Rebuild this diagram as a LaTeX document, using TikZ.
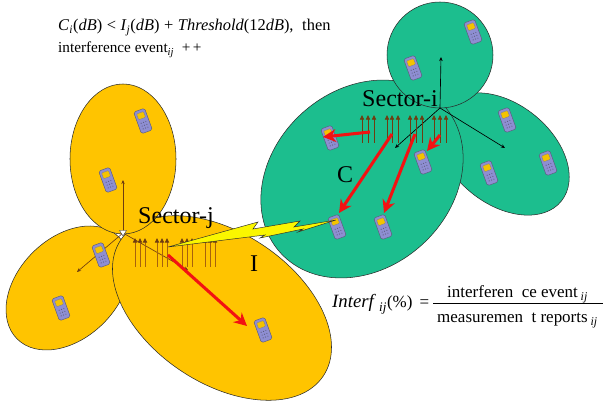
\documentclass[tikz,border=0pt]{standalone}
\usepackage{fontspec}
\setmainfont{Liberation Serif}
\usetikzlibrary{arrows.meta}

\definecolor{cellyellow}{HTML}{FFC400}
\definecolor{cellgreen}{HTML}{1CBE8E}
\definecolor{outline}{HTML}{2A2A2A}
\definecolor{beamred}{HTML}{F21212}
\definecolor{antbrown}{HTML}{A8620C}
\definecolor{antbrowndk}{HTML}{6E3C10}
\definecolor{phonebody}{HTML}{8E8ED2}
\definecolor{phoneedge}{HTML}{5C5C7C}
\definecolor{phonescreen}{HTML}{F4C300}
\definecolor{boltyellow}{HTML}{FAF600}

\tikzset{
  phone/.pic={
    \draw[phoneedge, fill=phonebody, line width=0.4pt, rounded corners=1.5pt] (-5.8,-11.5) rectangle (5.8,11.5);
    \draw[phoneedge!80, fill=phonescreen, line width=0.3pt, rounded corners=0.8pt] (-3.7,-8.8) rectangle (3.7,-2.6);
    \foreach \r in {1.5,4.5,7.5}{\foreach \c in {-2.5,0,2.5}{\fill[phoneedge] (\c,\r) circle (0.6);}}
  }
}

\begin{document}
\begin{tikzpicture}[x=0.03cm,y=-0.03cm,
  lobe/.style={draw=outline, line width=0.45pt},
  yl/.style={lobe, fill=cellyellow},
  gr/.style={lobe, fill=cellgreen},
  beam/.style={draw=beamred, line width=2.6pt, -{Stealth[length=11pt,width=11pt,inset=3.5pt]}},
  dirarrow/.style={line width=0.55pt, -{Stealth[length=3.5pt,width=3pt]}},
  ant/.style={draw=antbrown, line width=0.8pt, -{Triangle[length=4pt,width=3.6pt,color=antbrowndk,fill=antbrowndk]}},
  antg/.style={draw=antbrowndk, line width=0.7pt, -{Triangle[length=4pt,width=3.6pt,color=antbrowndk,fill=antbrowndk]}},
  lbl/.style={font=\fontsize{20.5}{24}\selectfont, inner sep=0pt, anchor=base west},
  eq/.style={font=\fontsize{13}{15}\selectfont, inner sep=0pt, anchor=base west},
  frac/.style={font=\fontsize{14.5}{17}\selectfont, inner sep=0pt, anchor=base west},
]
\useasboundingbox (0,0) rectangle (604,405);

% ---------- cell j (yellow) ----------
\coordinate (jsite) at (123,233);
\filldraw[yl, rotate around={45:(68,288)}] (68,288) ellipse [x radius=72, y radius=50];
\filldraw[yl, rotate around={-34:(222,308)}] (222,308) ellipse [x radius=122, y radius=75];
\filldraw[yl] (123,159) ellipse [x radius=53, y radius=75];

% ---------- cell i (green) ----------
\coordinate (isite) at (440,108);
\filldraw[gr, rotate around={-39:(503,154)}] (503,154) ellipse [x radius=75, y radius=50];
\filldraw[gr, rotate around={42:(362,179)}] (362,179) ellipse [x radius=110, y radius=89];
\filldraw[gr] (440,55) circle [radius=53];

% sector directions
\coordinate (j1) at (123,180);
\coordinate (j2) at (77,272);
\coordinate (j3) at (188,270);
\foreach \t in {j1,j2,j3} \draw[dirarrow, antbrowndk] (jsite) -- (\t);
\coordinate (i1) at (441,57);
\coordinate (i2) at (395,148);
\coordinate (i3) at (505,148);
\foreach \t in {i1,i2,i3} \draw[dirarrow, black] (isite) -- (\t);
\filldraw[fill=white, draw=outline, line width=0.3pt] (119.5,230.5) -- (126.5,230.5) -- (123,236) -- cycle;

% antenna element arrows
\foreach \x in {135,140,145,157,162,167,182,187,192,205,210,215}
  \draw[ant] (\x,267) -- (\x,238);
\foreach \x in {362,368,374,387,392,398,410,416,422,434,440,446}
  \draw[antg] (\x,143) -- (\x,115);

% ---------- mobiles ----------
\foreach \p in {(143,121),(108,180),(101,255),(61,308),(263,330),
                (473,32),(413,68),(330,138),(423,162),(507,120),(548,163),(489,173),(337,227),(383,227)}
  \pic[rotate=20] at \p {phone};

% ---------- interference bolt ----------
\filldraw[fill=boltyellow, draw=outline, line width=0.4pt, line join=miter]
  (168,247) -- (258,222) -- (253,229) -- (300,221) -- (294,227) -- (336,220)
  -- (298,232) -- (303,229) -- (260,238) -- (265,235) -- cycle;

% ---------- carrier / interferer links ----------
\coordinate (js) at (168,255);  \coordinate (je) at (247,326);
\coordinate (c1s) at (370,132); \coordinate (c1e) at (323,137);
\coordinate (c2s) at (392,134); \coordinate (c2e) at (339,213);
\coordinate (c3s) at (415,134); \coordinate (c3e) at (384,213);
\coordinate (c4s) at (440,135); \coordinate (c4e) at (427,151);
\draw[beam] (js) -- (je);
\draw[beam] (c1s) -- (c1e);
\draw[beam] (c2s) -- (c2e);
\draw[beam] (c3s) -- (c3e);
\draw[beam] (c4s) -- (c4e);

% ---------- labels ----------
\node[lbl] (secj) at (138,224) {Sector-j};
\node[lbl] (seci) at (362,107) {Sector-i};
\node[lbl] (clab) at (337,183) {C};
\node[lbl] (ilab) at (250,272) {I};

\node[eq, font=\fontsize{14}{16}\selectfont] (cond) at (58,31) {\textit{C}\textsubscript{\textit{i}}(\textit{dB})\;<\;\textit{I}\textsubscript{\textit{j}}(\textit{dB})\;+\;\textit{Threshold}(12\textit{dB}),\; then};
\node[eq] (evt) at (58,53) {interference event\textsubscript{\textit{ij}}\enspace +\,+};

\node[font=\fontsize{16}{18}\selectfont, inner sep=0pt, anchor=base west] (interf) at (332,308)
  {\textit{Interf}\,\textsubscript{\textit{ij}}\fontsize{14.5}{17}\selectfont(\%)\, =};
\node[frac] (num) at (447,298) {interferen\enspace ce event\,\textsubscript{\textit{ij}}};
\node[frac] (den) at (437,323) {measuremen\enspace t reports\,\textsubscript{\textit{ij}}};
\coordinate (barl) at (433,303);
\coordinate (barr) at (603,303);
\draw[line width=0.6pt] (barl) -- (barr);
\end{tikzpicture}
\end{document}
